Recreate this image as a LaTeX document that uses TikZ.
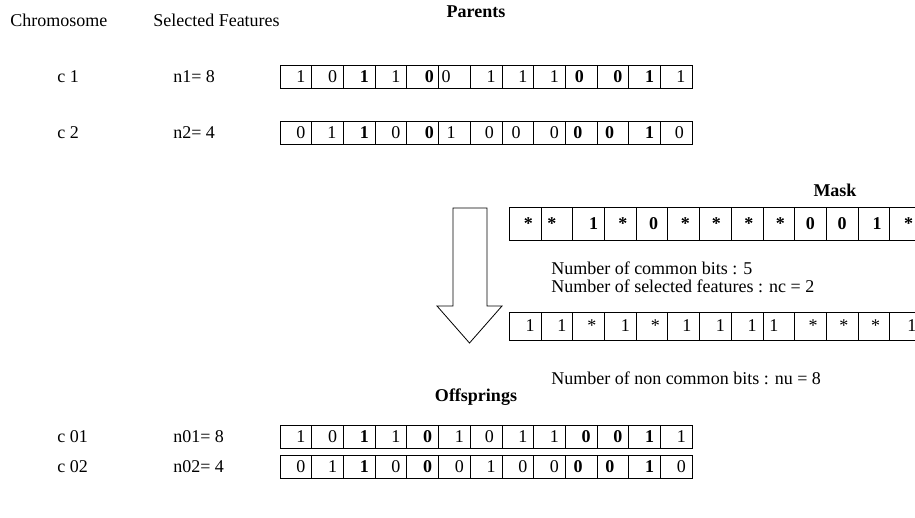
\documentclass[tikz,border=0pt]{standalone}
\usepackage{fontspec}
\setmainfont{Liberation Serif}
\newcommand{\bitrow}[5]{%
  \foreach \v/\o [count=\i] in {#5} {
    \node[cell, minimum height=#4] (#1-\i) at ({#2+(\i-0.5)*31.7}, #3) {};
    \node[bit] (#1-\i-t) at ({#2+(\i-0.5)*31.7+\o}, #3) {\v};
  }}
\begin{document}
\begin{tikzpicture}[x=0.75pt, y=-0.75pt,
  every node/.style={font=\fontsize{13.5pt}{16pt}\selectfont},
  cell/.style={draw, line width=0.6pt, inner sep=0pt, minimum width=23.775pt},
  bit/.style={inner sep=0pt},
  lbl/.style={anchor=west, inner sep=0pt},
  ttl/.style={font=\fontsize{13.5pt}{16pt}\selectfont\bfseries, inner sep=0pt}]
\useasboundingbox (0,0) rectangle (915,518);
\clip (0,0) rectangle (915,518);

\node[lbl] (hchrom) at (10,20) {Chromosome};
\node[lbl] (hsel) at (153,20) {Selected Features};
\node[ttl] (parents) at (476,12) {Parents};

\node[lbl] (lc1) at (57,77) {c 1};
\node[lbl] (ln1) at (173,77) {n1= 8};
\bitrow{c1}{280}{77}{17.25pt}{1/5, 0/5, \textbf{1}/5, 1/5, \textbf{0}/6.7, 0/-8.3, 1/5, 1/5, 1/5, \textbf{0}/-1.7, \textbf{0}/5, \textbf{1}/5, 1/4.7}

\node[lbl] (lc2) at (57,133) {c 2};
\node[lbl] (ln2) at (173,133) {n2= 4};
\bitrow{c2}{280}{133}{17.25pt}{0/5, 1/4.3, \textbf{1}/5, 0/5, \textbf{0}/6.7, 1/-3.3, 0/3.3, 0/-1.7, 0/5, \textbf{0}/-3.3, \textbf{0}/-3.3, \textbf{1}/5, 0/3}

\node[ttl] (mask) at (835,190) {Mask};
\bitrow{m}{509.3}{224}{24.75pt}{\textbf{*}/3.3, \textbf{*}/-5, \textbf{1}/5, \textbf{*}/2.7, \textbf{0}/1.7, \textbf{*}/1.7, \textbf{*}/1, \textbf{*}/1.7, \textbf{*}/1.7, \textbf{0}/0, \textbf{0}/0, \textbf{1}/3.3, \textbf{*}/3}

\node[lbl] (ncb) at (551,268) {Number of common bits : 5};
\node[lbl] (nsf) at (551,286) {Number of selected features : nc = 2};

\bitrow{u}{509.3}{326}{21pt}{1/5, 1/5, */3.3, 1/5, */3.3, 1/3.3, 1/5, 1/5, 1/-5, */2.7, */1.7, */1.7, 1/6.3}

\node[lbl] (nnc) at (551,378) {Number of non common bits : nu = 8};

\node[ttl] (offs) at (476,397) {Offsprings};

\node[lbl] (lc01) at (57,437) {c 01};
\node[lbl] (ln01) at (173,437) {n01= 8};
\bitrow{o1}{280}{437}{17.25pt}{1/5, 0/5, \textbf{1}/5, 1/5, \textbf{0}/5, 1/5, 0/3.3, 1/5, 1/5, \textbf{0}/5, \textbf{0}/5, \textbf{1}/5, 1/5}

\node[lbl] (lc02) at (57,467) {c 02};
\node[lbl] (ln02) at (173,467) {n02= 4};
\bitrow{o2}{280}{467}{17.25pt}{0/5, 1/5, \textbf{1}/5, 0/5, \textbf{0}/5, 0/5, 1/5, 0/5, 0/5, \textbf{0}/-3, \textbf{0}/-3, \textbf{1}/5, 0/5}

% block arrow
\draw[line width=0.6pt, fill=white]
  (453,208) -- (487,208) -- (487,306) -- (502,306) -- (469.5,343)
  -- (437,306) -- (453,306) -- cycle;
\end{tikzpicture}
\end{document}
